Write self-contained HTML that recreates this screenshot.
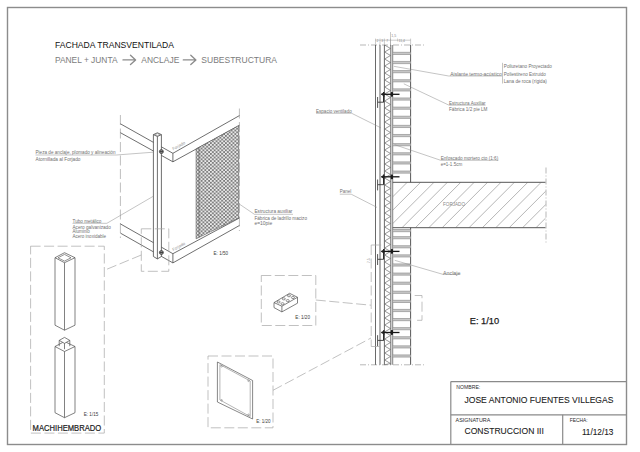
<!DOCTYPE html><html><head><meta charset="utf-8"><style>html,body{margin:0;padding:0;background:#fff;}svg{display:block;}</style></head><body>
<svg width="640" height="452" viewBox="0 0 640 452" font-family='"Liberation Sans", sans-serif'>
<rect width="640" height="452" fill="#fff"/>
<rect x="7.5" y="7.5" width="619" height="437" fill="none" stroke="#8c8c8c" stroke-width="1.4"/>
<text x="55" y="48.1" font-size="8.6" fill="#111" font-weight="normal" text-anchor="start" textLength="119" lengthAdjust="spacingAndGlyphs" >FACHADA TRANSVENTILADA</text>
<text x="55" y="62.8" font-size="8.8" fill="#7c7c7c" font-weight="normal" text-anchor="start" textLength="62.5" lengthAdjust="spacingAndGlyphs" >PANEL + JUNTA</text>
<text x="141.3" y="62.8" font-size="8.8" fill="#7c7c7c" font-weight="normal" text-anchor="start" textLength="38" lengthAdjust="spacingAndGlyphs" >ANCLAJE</text>
<text x="201.3" y="62.8" font-size="8.8" fill="#7c7c7c" font-weight="normal" text-anchor="start" textLength="75.7" lengthAdjust="spacingAndGlyphs" >SUBESTRUCTURA</text>
<path d="M123.0,59.9 H135.6 M130.5,55.2 L135.6,59.9 L130.5,64.6" stroke="#8c8c8c" stroke-width="1.35" fill="none" stroke-linecap="round" stroke-linejoin="round"/>
<path d="M183.3,59.9 H195.9 M190.8,55.2 L195.9,59.9 L190.8,64.6" stroke="#8c8c8c" stroke-width="1.35" fill="none" stroke-linecap="round" stroke-linejoin="round"/>
<line x1="120.40" y1="115.00" x2="120.40" y2="238.00" stroke="#a4a4a4" stroke-width="0.7" stroke-dasharray="10,3.5"/>
<line x1="239.40" y1="108.50" x2="239.40" y2="231.00" stroke="#a4a4a4" stroke-width="0.7" stroke-dasharray="10,3.5"/>
<polyline points="120.40,123.80 172.90,153.30 239.40,115.60" stroke="#4a4a4a" stroke-width="0.8" fill="none" />
<polyline points="120.40,132.70 172.90,161.80 239.40,125.30" stroke="#4a4a4a" stroke-width="0.8" fill="none" />
<line x1="172.90" y1="153.30" x2="172.90" y2="161.80" stroke="#4a4a4a" stroke-width="0.8" />
<polyline points="120.40,223.90 172.90,253.70 239.40,218.00" stroke="#4a4a4a" stroke-width="0.8" fill="none" />
<polyline points="120.40,233.10 172.90,262.90 239.40,225.50" stroke="#4a4a4a" stroke-width="0.8" fill="none" />
<line x1="172.90" y1="253.70" x2="172.90" y2="262.90" stroke="#4a4a4a" stroke-width="0.8" />
<defs><pattern id="mesh" x="0" y="0" width="3.75" height="3.6" patternUnits="userSpaceOnUse"><rect width="3.75" height="3.6" fill="#7a7a7a"/><ellipse cx="0.94" cy="0.9" rx="1.2" ry="0.85" fill="#f6f6f6"/><ellipse cx="2.81" cy="2.7" rx="1.2" ry="0.85" fill="#f6f6f6"/></pattern></defs>
<polygon points="196.10,148.90 238.70,125.60 238.70,218.00 196.10,238.80" stroke="#555" stroke-width="0.6" fill="url(#mesh)" />
<line x1="199.00" y1="147.30" x2="199.00" y2="237.40" stroke="#555" stroke-width="0.6" />
<polygon points="153.40,134.60 157.40,132.80 161.40,134.60 161.40,256.50 157.40,258.90 153.40,256.50" stroke="none" stroke-width="0" fill="#fff" />
<line x1="153.40" y1="134.60" x2="153.40" y2="256.50" stroke="#4a4a4a" stroke-width="0.8" />
<line x1="157.40" y1="136.50" x2="157.40" y2="258.90" stroke="#4a4a4a" stroke-width="0.8" />
<line x1="161.40" y1="134.60" x2="161.40" y2="256.50" stroke="#4a4a4a" stroke-width="0.8" />
<polygon points="153.40,134.60 157.40,132.80 161.40,134.60 157.40,136.50" stroke="#4a4a4a" stroke-width="0.8" fill="none" />
<polygon points="154.50,134.60 157.40,133.60 160.30,134.60 157.40,135.60" stroke="#777" stroke-width="0.5" fill="none" />
<polyline points="153.40,256.50 157.40,258.90 161.40,256.50" stroke="#4a4a4a" stroke-width="0.8" fill="none" />
<circle cx="161.4" cy="151.6" r="2.0" fill="#8a8a8a" stroke="#333" stroke-width="0.7"/>
<line x1="159.80" y1="151.60" x2="163.00" y2="151.60" stroke="#222" stroke-width="0.7" />
<circle cx="161.4" cy="252.5" r="2.0" fill="#8a8a8a" stroke="#333" stroke-width="0.7"/>
<line x1="159.80" y1="252.50" x2="163.00" y2="252.50" stroke="#222" stroke-width="0.7" />
<rect x="141.3" y="228.8" width="27.5" height="42.5" fill="none" stroke="#a6a6a6" stroke-width="0.7" stroke-dasharray="10,3.5"/>
<line x1="141.30" y1="255.00" x2="105.00" y2="270.00" stroke="#a6a6a6" stroke-width="0.7" stroke-dasharray="10,3.5"/>
<text x="35.5" y="154.1" font-size="4.6" fill="#707070" font-weight="normal" text-anchor="start" textLength="80" lengthAdjust="spacingAndGlyphs" >Pieza de anclaje, plomado y alineación</text>
<line x1="35.50" y1="155.00" x2="116.30" y2="155.00" stroke="#8a8a8a" stroke-width="0.5" />
<line x1="116.30" y1="155.00" x2="153.40" y2="152.20" stroke="#8a8a8a" stroke-width="0.5" />
<text x="35.5" y="161.0" font-size="4.6" fill="#707070" font-weight="normal" text-anchor="start" textLength="45" lengthAdjust="spacingAndGlyphs" >Atornillada al Forjado</text>
<text x="72.5" y="222.6" font-size="4.6" fill="#707070" font-weight="normal" text-anchor="start" textLength="28.9" lengthAdjust="spacingAndGlyphs" >Tubo metálico</text>
<line x1="72.50" y1="223.30" x2="106.90" y2="223.30" stroke="#8a8a8a" stroke-width="0.5" />
<line x1="106.90" y1="223.30" x2="153.20" y2="196.30" stroke="#8a8a8a" stroke-width="0.5" />
<text x="72.5" y="229.2" font-size="4.6" fill="#707070" font-weight="normal" text-anchor="start" textLength="38.3" lengthAdjust="spacingAndGlyphs" >Acero galvanizado</text>
<text x="72.5" y="233.1" font-size="4.6" fill="#707070" font-weight="normal" text-anchor="start" textLength="17.2" lengthAdjust="spacingAndGlyphs" >Aluminio</text>
<text x="72.5" y="237.5" font-size="4.6" fill="#707070" font-weight="normal" text-anchor="start" textLength="33.5" lengthAdjust="spacingAndGlyphs" >Acero inoxidable</text>
<text x="254.4" y="213.4" font-size="4.6" fill="#707070" font-weight="normal" text-anchor="start" textLength="38" lengthAdjust="spacingAndGlyphs" >Estructura auxiliar</text>
<line x1="238.50" y1="203.50" x2="254.40" y2="214.30" stroke="#8a8a8a" stroke-width="0.5" />
<line x1="254.40" y1="214.30" x2="293.00" y2="214.30" stroke="#8a8a8a" stroke-width="0.5" />
<text x="254.4" y="219.6" font-size="4.6" fill="#707070" font-weight="normal" text-anchor="start" textLength="52.6" lengthAdjust="spacingAndGlyphs" >Fábrica de ladrillo macizo</text>
<text x="254.4" y="224.9" font-size="4.6" fill="#707070" font-weight="normal" text-anchor="start" textLength="17.8" lengthAdjust="spacingAndGlyphs" >e=10pie</text>
<text x="213.6" y="254.9" font-size="5.2" fill="#3a3a3a" font-weight="normal" text-anchor="start" textLength="14.4" lengthAdjust="spacingAndGlyphs" >E: 1/50</text>
<text x="173.2" y="150.6" font-size="4.2" fill="#999" transform="rotate(-29 173.2 150.6)">Forjado</text>
<text x="173.2" y="251.2" font-size="4.2" fill="#999" transform="rotate(-29 173.2 251.2)">Forjado</text>
<rect x="30.6" y="246.2" width="73.7" height="186.9" fill="none" stroke="#a6a6a6" stroke-width="0.7" stroke-dasharray="10,3.5"/>
<polygon points="64.50,252.70 55.00,257.70 64.50,262.70 75.00,257.70" stroke="#4a4a4a" stroke-width="0.7" fill="none" />
<line x1="55.00" y1="257.70" x2="55.00" y2="325.20" stroke="#4a4a4a" stroke-width="0.7" />
<line x1="64.50" y1="262.70" x2="64.50" y2="330.20" stroke="#4a4a4a" stroke-width="0.7" />
<line x1="75.00" y1="257.70" x2="75.00" y2="325.20" stroke="#4a4a4a" stroke-width="0.7" />
<polyline points="55.00,325.20 64.50,330.20 75.00,325.20" stroke="#4a4a4a" stroke-width="0.7" fill="none" />
<polygon points="64.50,254.40 58.00,257.80 64.50,261.10 71.00,257.80" stroke="#4a4a4a" stroke-width="0.6" fill="none" />
<polygon points="64.50,341.50 55.00,346.50 64.50,351.50 75.00,346.50" stroke="#4a4a4a" stroke-width="0.7" fill="none" />
<line x1="55.00" y1="346.50" x2="55.00" y2="412.70" stroke="#4a4a4a" stroke-width="0.7" />
<line x1="64.50" y1="351.50" x2="64.50" y2="417.70" stroke="#4a4a4a" stroke-width="0.7" />
<line x1="75.00" y1="346.50" x2="75.00" y2="412.70" stroke="#4a4a4a" stroke-width="0.7" />
<polyline points="55.00,412.70 64.50,417.70 75.00,412.70" stroke="#4a4a4a" stroke-width="0.7" fill="none" />
<polygon points="64.50,337.40 59.20,340.40 64.50,343.40 69.80,340.40" stroke="#4a4a4a" stroke-width="0.7" fill="#fff" />
<line x1="59.20" y1="340.40" x2="59.20" y2="346.20" stroke="#4a4a4a" stroke-width="0.7" />
<line x1="64.50" y1="343.40" x2="64.50" y2="349.20" stroke="#4a4a4a" stroke-width="0.7" />
<line x1="69.80" y1="340.40" x2="69.80" y2="346.20" stroke="#4a4a4a" stroke-width="0.7" />
<text x="83.7" y="416.2" font-size="5.2" fill="#3a3a3a" font-weight="normal" text-anchor="start" textLength="14.6" lengthAdjust="spacingAndGlyphs" >E: 1/15</text>
<text x="32.6" y="430.9" font-size="8.6" fill="#1a1a1a" font-weight="normal" text-anchor="start" textLength="68.6" lengthAdjust="spacingAndGlyphs" stroke="#1a1a1a" stroke-width="0.2">MACHIHEMBRADO</text>
<rect x="261.3" y="275.5" width="54.5" height="50" fill="none" stroke="#a6a6a6" stroke-width="0.7" stroke-dasharray="10,3.5"/>
<polygon points="274.00,302.60 289.60,293.30 297.50,297.30 281.90,306.20" stroke="#4a4a4a" stroke-width="0.7" fill="none" />
<polyline points="274.00,302.60 274.00,307.60 281.90,311.90 297.50,303.20 297.50,297.30" stroke="#4a4a4a" stroke-width="0.7" fill="none" />
<line x1="281.90" y1="306.20" x2="281.90" y2="311.90" stroke="#4a4a4a" stroke-width="0.7" />
<ellipse cx="278.58" cy="301.95" rx="1.55" ry="1.05" fill="none" stroke="#4a4a4a" stroke-width="0.6"/>
<ellipse cx="282.53" cy="303.75" rx="1.55" ry="1.05" fill="none" stroke="#4a4a4a" stroke-width="0.6"/>
<ellipse cx="283.78" cy="298.85" rx="1.55" ry="1.05" fill="none" stroke="#4a4a4a" stroke-width="0.6"/>
<ellipse cx="287.73" cy="300.65" rx="1.55" ry="1.05" fill="none" stroke="#4a4a4a" stroke-width="0.6"/>
<ellipse cx="288.98" cy="295.75" rx="1.55" ry="1.05" fill="none" stroke="#4a4a4a" stroke-width="0.6"/>
<ellipse cx="292.93" cy="297.55" rx="1.55" ry="1.05" fill="none" stroke="#4a4a4a" stroke-width="0.6"/>
<text x="295.3" y="318.8" font-size="5.2" fill="#3a3a3a" font-weight="normal" text-anchor="start" textLength="14.7" lengthAdjust="spacingAndGlyphs" >E: 1/20</text>
<line x1="315.80" y1="300.00" x2="371.00" y2="305.20" stroke="#a6a6a6" stroke-width="0.7" stroke-dasharray="10,3.5"/>
<rect x="208" y="356" width="65" height="71.8" fill="none" stroke="#a6a6a6" stroke-width="0.7" stroke-dasharray="10,3.5"/>
<polygon points="217.40,362.00 252.60,380.50 252.60,419.00 217.40,402.00" stroke="#555" stroke-width="0.7" fill="none" />
<polygon points="219.90,364.60 250.20,381.00 250.20,416.60 219.90,399.90" stroke="#777" stroke-width="0.55" fill="none" />
<circle cx="221.6" cy="366.3" r="0.8" fill="none" stroke="#777" stroke-width="0.5"/>
<circle cx="248.5" cy="380.8" r="0.8" fill="none" stroke="#777" stroke-width="0.5"/>
<circle cx="221.6" cy="400.3" r="0.8" fill="none" stroke="#777" stroke-width="0.5"/>
<circle cx="248.5" cy="414.8" r="0.8" fill="none" stroke="#777" stroke-width="0.5"/>
<text x="256.3" y="423.1" font-size="5.2" fill="#3a3a3a" font-weight="normal" text-anchor="start" textLength="14.3" lengthAdjust="spacingAndGlyphs" >E: 1/20</text>
<line x1="273.00" y1="390.30" x2="371.00" y2="338.00" stroke="#a6a6a6" stroke-width="0.7" stroke-dasharray="10,3.5"/>
<line x1="360.00" y1="45.00" x2="425.60" y2="45.00" stroke="#9a9a9a" stroke-width="0.7" stroke-dasharray="6,2,1,2"/>
<line x1="360.00" y1="364.80" x2="425.60" y2="364.80" stroke="#9a9a9a" stroke-width="0.7" stroke-dasharray="6,2,1,2"/>
<line x1="375.50" y1="45.00" x2="375.50" y2="364.80" stroke="#444" stroke-width="0.8" />
<line x1="380.00" y1="45.00" x2="380.00" y2="364.80" stroke="#888" stroke-width="1.3" />
<line x1="384.40" y1="45.00" x2="384.40" y2="364.80" stroke="#444" stroke-width="0.8" />
<line x1="390.80" y1="45.00" x2="390.80" y2="364.80" stroke="#444" stroke-width="0.8" />
<polyline points="384.60,45.00 390.50,48.50 384.60,52.00 390.50,55.50 384.60,59.00 390.50,62.50 384.60,66.00 390.50,69.50 384.60,73.00 390.50,76.50 384.60,80.00 390.50,83.50 384.60,87.00 390.50,90.50 384.60,94.00 390.50,97.50 384.60,101.00 390.50,104.50 384.60,108.00 390.50,111.50 384.60,115.00 390.50,118.50 384.60,122.00 390.50,125.50 384.60,129.00 390.50,132.50 384.60,136.00 390.50,139.50 384.60,143.00 390.50,146.50 384.60,150.00 390.50,153.50 384.60,157.00 390.50,160.50 384.60,164.00 390.50,167.50 384.60,171.00 390.50,174.50 384.60,178.00 390.50,181.50 384.60,185.00 390.50,188.50 384.60,192.00 390.50,195.50 384.60,199.00 390.50,202.50 384.60,206.00 390.50,209.50 384.60,213.00 390.50,216.50 384.60,220.00 390.50,223.50 384.60,227.00 390.50,230.50 384.60,234.00 390.50,237.50 384.60,241.00 390.50,244.50 384.60,248.00 390.50,251.50 384.60,255.00 390.50,258.50 384.60,262.00 390.50,265.50 384.60,269.00 390.50,272.50 384.60,276.00 390.50,279.50 384.60,283.00 390.50,286.50 384.60,290.00 390.50,293.50 384.60,297.00 390.50,300.50 384.60,304.00 390.50,307.50 384.60,311.00 390.50,314.50 384.60,318.00 390.50,321.50 384.60,325.00 390.50,328.50 384.60,332.00 390.50,335.50 384.60,339.00 390.50,342.50 384.60,346.00 390.50,349.50 384.60,353.00 390.50,356.50 384.60,360.00 390.50,363.50 384.60,364.80" stroke="#6c6c6c" stroke-width="0.7" fill="none" />
<line x1="392.60" y1="45.00" x2="392.60" y2="364.80" stroke="#999" stroke-width="1.3" />
<defs><clipPath id="slabclip"><rect x="392.7" y="182.3" width="152.8" height="45.4"/></clipPath></defs>
<g clip-path="url(#slabclip)">
<line x1="353.60" y1="182.30" x2="308.20" y2="227.70" stroke="#858585" stroke-width="0.6" />
<line x1="367.00" y1="182.30" x2="321.60" y2="227.70" stroke="#858585" stroke-width="0.6" />
<line x1="380.40" y1="182.30" x2="335.00" y2="227.70" stroke="#858585" stroke-width="0.6" />
<line x1="393.80" y1="182.30" x2="348.40" y2="227.70" stroke="#858585" stroke-width="0.6" />
<line x1="407.20" y1="182.30" x2="361.80" y2="227.70" stroke="#858585" stroke-width="0.6" />
<line x1="420.60" y1="182.30" x2="375.20" y2="227.70" stroke="#858585" stroke-width="0.6" />
<line x1="434.00" y1="182.30" x2="388.60" y2="227.70" stroke="#858585" stroke-width="0.6" />
<line x1="447.40" y1="182.30" x2="402.00" y2="227.70" stroke="#858585" stroke-width="0.6" />
<line x1="460.80" y1="182.30" x2="415.40" y2="227.70" stroke="#858585" stroke-width="0.6" />
<line x1="474.20" y1="182.30" x2="428.80" y2="227.70" stroke="#858585" stroke-width="0.6" />
<line x1="487.60" y1="182.30" x2="442.20" y2="227.70" stroke="#858585" stroke-width="0.6" />
<line x1="501.00" y1="182.30" x2="455.60" y2="227.70" stroke="#858585" stroke-width="0.6" />
<line x1="514.40" y1="182.30" x2="469.00" y2="227.70" stroke="#858585" stroke-width="0.6" />
<line x1="527.80" y1="182.30" x2="482.40" y2="227.70" stroke="#858585" stroke-width="0.6" />
<line x1="541.20" y1="182.30" x2="495.80" y2="227.70" stroke="#858585" stroke-width="0.6" />
<line x1="554.60" y1="182.30" x2="509.20" y2="227.70" stroke="#858585" stroke-width="0.6" />
<line x1="568.00" y1="182.30" x2="522.60" y2="227.70" stroke="#858585" stroke-width="0.6" />
<line x1="581.40" y1="182.30" x2="536.00" y2="227.70" stroke="#858585" stroke-width="0.6" />
<line x1="594.80" y1="182.30" x2="549.40" y2="227.70" stroke="#858585" stroke-width="0.6" />
<line x1="608.20" y1="182.30" x2="562.80" y2="227.70" stroke="#858585" stroke-width="0.6" />
</g>
<line x1="392.70" y1="182.30" x2="545.50" y2="182.30" stroke="#555" stroke-width="1.0" />
<line x1="392.70" y1="227.70" x2="545.50" y2="227.70" stroke="#555" stroke-width="1.0" />
<line x1="546.00" y1="167.50" x2="546.00" y2="244.00" stroke="#999" stroke-width="0.7" stroke-dasharray="6,2,1,2"/>
<text x="443" y="206" font-size="5.2" fill="#888" font-weight="normal" text-anchor="start" textLength="22" lengthAdjust="spacingAndGlyphs" >FORJADO</text>
<line x1="410.60" y1="45.00" x2="410.60" y2="182.30" stroke="#444" stroke-width="0.9" />
<line x1="410.60" y1="227.70" x2="410.60" y2="364.80" stroke="#444" stroke-width="0.9" />
<rect x="392.9" y="52.30" width="17.7" height="2.2" fill="#c8c8c8"/>
<line x1="392.90" y1="52.30" x2="410.60" y2="52.30" stroke="#7a7a7a" stroke-width="0.55" />
<line x1="392.90" y1="54.50" x2="410.60" y2="54.50" stroke="#7a7a7a" stroke-width="0.55" />
<rect x="392.9" y="61.43" width="17.7" height="2.2" fill="#c8c8c8"/>
<line x1="392.90" y1="61.43" x2="410.60" y2="61.43" stroke="#7a7a7a" stroke-width="0.55" />
<line x1="392.90" y1="63.63" x2="410.60" y2="63.63" stroke="#7a7a7a" stroke-width="0.55" />
<rect x="392.9" y="70.56" width="17.7" height="2.2" fill="#c8c8c8"/>
<line x1="392.90" y1="70.56" x2="410.60" y2="70.56" stroke="#7a7a7a" stroke-width="0.55" />
<line x1="392.90" y1="72.76" x2="410.60" y2="72.76" stroke="#7a7a7a" stroke-width="0.55" />
<rect x="392.9" y="79.69" width="17.7" height="2.2" fill="#c8c8c8"/>
<line x1="392.90" y1="79.69" x2="410.60" y2="79.69" stroke="#7a7a7a" stroke-width="0.55" />
<line x1="392.90" y1="81.89" x2="410.60" y2="81.89" stroke="#7a7a7a" stroke-width="0.55" />
<rect x="392.9" y="88.82" width="17.7" height="2.2" fill="#c8c8c8"/>
<line x1="392.90" y1="88.82" x2="410.60" y2="88.82" stroke="#7a7a7a" stroke-width="0.55" />
<line x1="392.90" y1="91.02" x2="410.60" y2="91.02" stroke="#7a7a7a" stroke-width="0.55" />
<rect x="392.9" y="97.95" width="17.7" height="2.2" fill="#c8c8c8"/>
<line x1="392.90" y1="97.95" x2="410.60" y2="97.95" stroke="#7a7a7a" stroke-width="0.55" />
<line x1="392.90" y1="100.15" x2="410.60" y2="100.15" stroke="#7a7a7a" stroke-width="0.55" />
<rect x="392.9" y="107.08" width="17.7" height="2.2" fill="#c8c8c8"/>
<line x1="392.90" y1="107.08" x2="410.60" y2="107.08" stroke="#7a7a7a" stroke-width="0.55" />
<line x1="392.90" y1="109.28" x2="410.60" y2="109.28" stroke="#7a7a7a" stroke-width="0.55" />
<rect x="392.9" y="116.21" width="17.7" height="2.2" fill="#c8c8c8"/>
<line x1="392.90" y1="116.21" x2="410.60" y2="116.21" stroke="#7a7a7a" stroke-width="0.55" />
<line x1="392.90" y1="118.41" x2="410.60" y2="118.41" stroke="#7a7a7a" stroke-width="0.55" />
<rect x="392.9" y="125.34" width="17.7" height="2.2" fill="#c8c8c8"/>
<line x1="392.90" y1="125.34" x2="410.60" y2="125.34" stroke="#7a7a7a" stroke-width="0.55" />
<line x1="392.90" y1="127.54" x2="410.60" y2="127.54" stroke="#7a7a7a" stroke-width="0.55" />
<rect x="392.9" y="134.47" width="17.7" height="2.2" fill="#c8c8c8"/>
<line x1="392.90" y1="134.47" x2="410.60" y2="134.47" stroke="#7a7a7a" stroke-width="0.55" />
<line x1="392.90" y1="136.67" x2="410.60" y2="136.67" stroke="#7a7a7a" stroke-width="0.55" />
<rect x="392.9" y="143.60" width="17.7" height="2.2" fill="#c8c8c8"/>
<line x1="392.90" y1="143.60" x2="410.60" y2="143.60" stroke="#7a7a7a" stroke-width="0.55" />
<line x1="392.90" y1="145.80" x2="410.60" y2="145.80" stroke="#7a7a7a" stroke-width="0.55" />
<rect x="392.9" y="152.73" width="17.7" height="2.2" fill="#c8c8c8"/>
<line x1="392.90" y1="152.73" x2="410.60" y2="152.73" stroke="#7a7a7a" stroke-width="0.55" />
<line x1="392.90" y1="154.93" x2="410.60" y2="154.93" stroke="#7a7a7a" stroke-width="0.55" />
<rect x="392.9" y="161.86" width="17.7" height="2.2" fill="#c8c8c8"/>
<line x1="392.90" y1="161.86" x2="410.60" y2="161.86" stroke="#7a7a7a" stroke-width="0.55" />
<line x1="392.90" y1="164.06" x2="410.60" y2="164.06" stroke="#7a7a7a" stroke-width="0.55" />
<rect x="392.9" y="170.99" width="17.7" height="2.2" fill="#c8c8c8"/>
<line x1="392.90" y1="170.99" x2="410.60" y2="170.99" stroke="#7a7a7a" stroke-width="0.55" />
<line x1="392.90" y1="173.19" x2="410.60" y2="173.19" stroke="#7a7a7a" stroke-width="0.55" />
<rect x="392.9" y="236.60" width="17.7" height="2.2" fill="#c8c8c8"/>
<line x1="392.90" y1="236.60" x2="410.60" y2="236.60" stroke="#7a7a7a" stroke-width="0.55" />
<line x1="392.90" y1="238.80" x2="410.60" y2="238.80" stroke="#7a7a7a" stroke-width="0.55" />
<rect x="392.9" y="245.70" width="17.7" height="2.2" fill="#c8c8c8"/>
<line x1="392.90" y1="245.70" x2="410.60" y2="245.70" stroke="#7a7a7a" stroke-width="0.55" />
<line x1="392.90" y1="247.90" x2="410.60" y2="247.90" stroke="#7a7a7a" stroke-width="0.55" />
<rect x="392.9" y="254.80" width="17.7" height="2.2" fill="#c8c8c8"/>
<line x1="392.90" y1="254.80" x2="410.60" y2="254.80" stroke="#7a7a7a" stroke-width="0.55" />
<line x1="392.90" y1="257.00" x2="410.60" y2="257.00" stroke="#7a7a7a" stroke-width="0.55" />
<rect x="392.9" y="263.90" width="17.7" height="2.2" fill="#c8c8c8"/>
<line x1="392.90" y1="263.90" x2="410.60" y2="263.90" stroke="#7a7a7a" stroke-width="0.55" />
<line x1="392.90" y1="266.10" x2="410.60" y2="266.10" stroke="#7a7a7a" stroke-width="0.55" />
<rect x="392.9" y="273.00" width="17.7" height="2.2" fill="#c8c8c8"/>
<line x1="392.90" y1="273.00" x2="410.60" y2="273.00" stroke="#7a7a7a" stroke-width="0.55" />
<line x1="392.90" y1="275.20" x2="410.60" y2="275.20" stroke="#7a7a7a" stroke-width="0.55" />
<rect x="392.9" y="282.10" width="17.7" height="2.2" fill="#c8c8c8"/>
<line x1="392.90" y1="282.10" x2="410.60" y2="282.10" stroke="#7a7a7a" stroke-width="0.55" />
<line x1="392.90" y1="284.30" x2="410.60" y2="284.30" stroke="#7a7a7a" stroke-width="0.55" />
<rect x="392.9" y="291.20" width="17.7" height="2.2" fill="#c8c8c8"/>
<line x1="392.90" y1="291.20" x2="410.60" y2="291.20" stroke="#7a7a7a" stroke-width="0.55" />
<line x1="392.90" y1="293.40" x2="410.60" y2="293.40" stroke="#7a7a7a" stroke-width="0.55" />
<rect x="392.9" y="300.30" width="17.7" height="2.2" fill="#c8c8c8"/>
<line x1="392.90" y1="300.30" x2="410.60" y2="300.30" stroke="#7a7a7a" stroke-width="0.55" />
<line x1="392.90" y1="302.50" x2="410.60" y2="302.50" stroke="#7a7a7a" stroke-width="0.55" />
<rect x="392.9" y="309.40" width="17.7" height="2.2" fill="#c8c8c8"/>
<line x1="392.90" y1="309.40" x2="410.60" y2="309.40" stroke="#7a7a7a" stroke-width="0.55" />
<line x1="392.90" y1="311.60" x2="410.60" y2="311.60" stroke="#7a7a7a" stroke-width="0.55" />
<rect x="392.9" y="318.50" width="17.7" height="2.2" fill="#c8c8c8"/>
<line x1="392.90" y1="318.50" x2="410.60" y2="318.50" stroke="#7a7a7a" stroke-width="0.55" />
<line x1="392.90" y1="320.70" x2="410.60" y2="320.70" stroke="#7a7a7a" stroke-width="0.55" />
<rect x="392.9" y="327.60" width="17.7" height="2.2" fill="#c8c8c8"/>
<line x1="392.90" y1="327.60" x2="410.60" y2="327.60" stroke="#7a7a7a" stroke-width="0.55" />
<line x1="392.90" y1="329.80" x2="410.60" y2="329.80" stroke="#7a7a7a" stroke-width="0.55" />
<rect x="392.9" y="336.70" width="17.7" height="2.2" fill="#c8c8c8"/>
<line x1="392.90" y1="336.70" x2="410.60" y2="336.70" stroke="#7a7a7a" stroke-width="0.55" />
<line x1="392.90" y1="338.90" x2="410.60" y2="338.90" stroke="#7a7a7a" stroke-width="0.55" />
<rect x="392.9" y="345.80" width="17.7" height="2.2" fill="#c8c8c8"/>
<line x1="392.90" y1="345.80" x2="410.60" y2="345.80" stroke="#7a7a7a" stroke-width="0.55" />
<line x1="392.90" y1="348.00" x2="410.60" y2="348.00" stroke="#7a7a7a" stroke-width="0.55" />
<rect x="392.9" y="354.90" width="17.7" height="2.2" fill="#c8c8c8"/>
<line x1="392.90" y1="354.90" x2="410.60" y2="354.90" stroke="#7a7a7a" stroke-width="0.55" />
<line x1="392.90" y1="357.10" x2="410.60" y2="357.10" stroke="#7a7a7a" stroke-width="0.55" />
<rect x="392.9" y="229.50" width="17.7" height="2.2" fill="#c8c8c8"/>
<line x1="392.90" y1="229.50" x2="410.60" y2="229.50" stroke="#7a7a7a" stroke-width="0.55" />
<line x1="392.90" y1="231.70" x2="410.60" y2="231.70" stroke="#7a7a7a" stroke-width="0.55" />
<line x1="381.30" y1="94.30" x2="399.50" y2="94.30" stroke="#151515" stroke-width="1.3" />
<polygon points="381.00,94.30 384.40,91.70 384.40,96.90" stroke="none" stroke-width="0" fill="#222" />
<line x1="383.60" y1="92.00" x2="383.60" y2="102.20" stroke="#222" stroke-width="1.1" />
<line x1="383.60" y1="102.20" x2="377.60" y2="102.20" stroke="#333" stroke-width="0.9" />
<line x1="377.60" y1="97.00" x2="377.60" y2="107.90" stroke="#555" stroke-width="1.0" />
<rect x="390.8" y="91.90" width="2.2" height="4.8" rx="0.8" fill="#1a1a1a"/>
<line x1="381.30" y1="176.80" x2="399.50" y2="176.80" stroke="#151515" stroke-width="1.3" />
<polygon points="381.00,176.80 384.40,174.20 384.40,179.40" stroke="none" stroke-width="0" fill="#222" />
<line x1="383.60" y1="174.50" x2="383.60" y2="184.70" stroke="#222" stroke-width="1.1" />
<line x1="383.60" y1="184.70" x2="377.60" y2="184.70" stroke="#333" stroke-width="0.9" />
<line x1="377.60" y1="179.50" x2="377.60" y2="190.40" stroke="#555" stroke-width="1.0" />
<rect x="390.8" y="174.40" width="2.2" height="4.8" rx="0.8" fill="#1a1a1a"/>
<line x1="381.30" y1="251.40" x2="399.50" y2="251.40" stroke="#151515" stroke-width="1.3" />
<polygon points="381.00,251.40 384.40,248.80 384.40,254.00" stroke="none" stroke-width="0" fill="#222" />
<line x1="383.60" y1="249.10" x2="383.60" y2="259.30" stroke="#222" stroke-width="1.1" />
<line x1="383.60" y1="259.30" x2="377.60" y2="259.30" stroke="#333" stroke-width="0.9" />
<line x1="377.60" y1="254.10" x2="377.60" y2="265.00" stroke="#555" stroke-width="1.0" />
<rect x="390.8" y="249.00" width="2.2" height="4.8" rx="0.8" fill="#1a1a1a"/>
<line x1="381.30" y1="332.50" x2="399.50" y2="332.50" stroke="#151515" stroke-width="1.3" />
<polygon points="381.00,332.50 384.40,329.90 384.40,335.10" stroke="none" stroke-width="0" fill="#222" />
<line x1="383.60" y1="330.20" x2="383.60" y2="340.40" stroke="#222" stroke-width="1.1" />
<line x1="383.60" y1="340.40" x2="377.60" y2="340.40" stroke="#333" stroke-width="0.9" />
<line x1="377.60" y1="335.20" x2="377.60" y2="346.10" stroke="#555" stroke-width="1.0" />
<rect x="390.8" y="330.10" width="2.2" height="4.8" rx="0.8" fill="#1a1a1a"/>
<line x1="375.30" y1="40.20" x2="410.70" y2="40.20" stroke="#999" stroke-width="0.5" />
<line x1="390.50" y1="32.00" x2="390.50" y2="45.00" stroke="#999" stroke-width="0.5" />
<line x1="375.50" y1="38.60" x2="375.50" y2="45.00" stroke="#999" stroke-width="0.5" />
<line x1="380.00" y1="38.60" x2="380.00" y2="45.00" stroke="#999" stroke-width="0.5" />
<line x1="384.40" y1="38.60" x2="384.40" y2="45.00" stroke="#999" stroke-width="0.5" />
<line x1="390.50" y1="38.60" x2="390.50" y2="45.00" stroke="#999" stroke-width="0.5" />
<line x1="410.60" y1="38.60" x2="410.60" y2="45.00" stroke="#999" stroke-width="0.5" />
<text x="376.6" y="41.6" font-size="3.4" fill="#888" font-weight="normal" text-anchor="start" >2</text>
<text x="381.2" y="41.6" font-size="3.4" fill="#888" font-weight="normal" text-anchor="start" >3</text>
<text x="386.2" y="41.6" font-size="3.4" fill="#888" font-weight="normal" text-anchor="start" >7</text>
<text x="398.5" y="41.6" font-size="3.4" fill="#888" font-weight="normal" text-anchor="start" >11,4</text>
<line x1="397.50" y1="38.50" x2="397.50" y2="41.50" stroke="#999" stroke-width="0.4" />
<text x="391.3" y="36.8" font-size="3.6" fill="#888" font-weight="normal" text-anchor="start" >1,5</text>
<line x1="371.20" y1="245.00" x2="371.20" y2="346.50" stroke="#a6a6a6" stroke-width="0.7" stroke-dasharray="10,3.5"/>
<line x1="371.20" y1="245.00" x2="382.50" y2="245.00" stroke="#a6a6a6" stroke-width="0.7" stroke-dasharray="10,3.5"/>
<line x1="371.20" y1="346.50" x2="380.00" y2="346.50" stroke="#a6a6a6" stroke-width="0.7" stroke-dasharray="10,3.5"/>
<polyline points="414.70,295.50 422.00,295.50 422.00,320.30 414.70,320.30" stroke="#a6a6a6" stroke-width="0.7" fill="none" stroke-dasharray="10,3.5"/>
<text x="369.5" y="263" font-size="3.2" fill="#888" font-weight="normal" text-anchor="start" transform="rotate(-90 369.5 263)">7,5</text>
<text x="450.3" y="76.1" font-size="4.8" fill="#707070" font-weight="normal" text-anchor="start" textLength="51.5" lengthAdjust="spacingAndGlyphs" >Aislante termo-acústico</text>
<line x1="393.80" y1="66.30" x2="448.70" y2="76.00" stroke="#8a8a8a" stroke-width="0.5" />
<line x1="448.70" y1="76.00" x2="502.00" y2="76.00" stroke="#8a8a8a" stroke-width="0.5" />
<line x1="502.50" y1="62.80" x2="502.50" y2="83.50" stroke="#8a8a8a" stroke-width="0.5" />
<text x="503.8" y="67.6" font-size="4.8" fill="#707070" font-weight="normal" text-anchor="start" textLength="48" lengthAdjust="spacingAndGlyphs" >Poliuretano Proyectado</text>
<text x="503.8" y="75.5" font-size="4.8" fill="#707070" font-weight="normal" text-anchor="start" textLength="42" lengthAdjust="spacingAndGlyphs" >Poliestireno Extruido</text>
<text x="503.8" y="82.9" font-size="4.8" fill="#707070" font-weight="normal" text-anchor="start" textLength="43" lengthAdjust="spacingAndGlyphs" >Lana de roca (rígida)</text>
<text x="449" y="104.6" font-size="4.8" fill="#707070" font-weight="normal" text-anchor="start" textLength="36.5" lengthAdjust="spacingAndGlyphs" >Estructura Auxiliar</text>
<line x1="403.80" y1="83.80" x2="449.00" y2="105.20" stroke="#8a8a8a" stroke-width="0.5" />
<line x1="449.00" y1="105.20" x2="485.60" y2="105.20" stroke="#8a8a8a" stroke-width="0.5" />
<text x="449" y="110.9" font-size="4.8" fill="#707070" font-weight="normal" text-anchor="start" textLength="38.5" lengthAdjust="spacingAndGlyphs" >Fábrica 1/2 pie LM</text>
<text x="440.7" y="159.5" font-size="4.8" fill="#707070" font-weight="normal" text-anchor="start" textLength="57.5" lengthAdjust="spacingAndGlyphs" >Enfoscado mortero cto (1:6)</text>
<line x1="394.70" y1="144.70" x2="440.70" y2="160.30" stroke="#8a8a8a" stroke-width="0.5" />
<line x1="440.70" y1="160.30" x2="498.40" y2="160.30" stroke="#8a8a8a" stroke-width="0.5" />
<text x="440.7" y="165.5" font-size="4.8" fill="#707070" font-weight="normal" text-anchor="start" textLength="21.5" lengthAdjust="spacingAndGlyphs" >e=1-1.5cm</text>
<text x="443.1" y="274.5" font-size="4.8" fill="#707070" font-weight="normal" text-anchor="start" textLength="17.2" lengthAdjust="spacingAndGlyphs" >Anclaje</text>
<line x1="394.70" y1="260.30" x2="443.10" y2="274.40" stroke="#8a8a8a" stroke-width="0.5" />
<line x1="443.10" y1="274.40" x2="460.30" y2="274.40" stroke="#8a8a8a" stroke-width="0.5" />
<text x="316" y="112.6" font-size="4.8" fill="#707070" font-weight="normal" text-anchor="start" textLength="35.7" lengthAdjust="spacingAndGlyphs" >Espacio ventilado</text>
<line x1="316.00" y1="113.30" x2="351.70" y2="113.30" stroke="#8a8a8a" stroke-width="0.5" />
<line x1="351.70" y1="113.30" x2="381.00" y2="127.90" stroke="#8a8a8a" stroke-width="0.5" />
<text x="339.8" y="193.3" font-size="4.8" fill="#707070" font-weight="normal" text-anchor="start" textLength="11.4" lengthAdjust="spacingAndGlyphs" >Panel</text>
<line x1="339.80" y1="194.20" x2="351.20" y2="194.20" stroke="#8a8a8a" stroke-width="0.5" />
<line x1="351.20" y1="194.20" x2="377.00" y2="207.40" stroke="#8a8a8a" stroke-width="0.5" />
<text x="469.8" y="323.9" font-size="9.9" fill="#1a1a1a" font-weight="normal" text-anchor="start" textLength="29.3" lengthAdjust="spacingAndGlyphs" stroke="#1a1a1a" stroke-width="0.25">E: 1/10</text>
<line x1="450.80" y1="381.60" x2="626.40" y2="381.60" stroke="#8a8a8a" stroke-width="1.2" />
<line x1="450.80" y1="381.60" x2="450.80" y2="444.20" stroke="#8a8a8a" stroke-width="1.2" />
<line x1="450.80" y1="414.80" x2="626.40" y2="414.80" stroke="#8a8a8a" stroke-width="1.2" />
<line x1="562.70" y1="414.80" x2="562.70" y2="444.20" stroke="#8a8a8a" stroke-width="1.2" />
<text x="456.3" y="388.9" font-size="6.0" fill="#2a2a2a" font-weight="normal" text-anchor="start" textLength="24" lengthAdjust="spacingAndGlyphs" >NOMBRE:</text>
<text x="464.5" y="403.2" font-size="9.1" fill="#1a1a1a" font-weight="normal" text-anchor="start" textLength="148.9" lengthAdjust="spacingAndGlyphs" stroke="#1a1a1a" stroke-width="0.1">JOSE ANTONIO FUENTES VILLEGAS</text>
<text x="455.6" y="422.2" font-size="5.8" fill="#2a2a2a" font-weight="normal" text-anchor="start" textLength="34.7" lengthAdjust="spacingAndGlyphs" >ASIGNATURA</text>
<text x="464.5" y="434.0" font-size="9.1" fill="#1a1a1a" font-weight="normal" text-anchor="start" textLength="79.3" lengthAdjust="spacingAndGlyphs" stroke="#1a1a1a" stroke-width="0.1">CONSTRUCCION III</text>
<text x="569.7" y="421.9" font-size="5.8" fill="#2a2a2a" font-weight="normal" text-anchor="start" textLength="18" lengthAdjust="spacingAndGlyphs" >FECHA:</text>
<text x="581.9" y="434.6" font-size="9.1" fill="#1a1a1a" font-weight="normal" text-anchor="start" textLength="31.5" lengthAdjust="spacingAndGlyphs" stroke="#1a1a1a" stroke-width="0.1">11/12/13</text>
</svg></body></html>
